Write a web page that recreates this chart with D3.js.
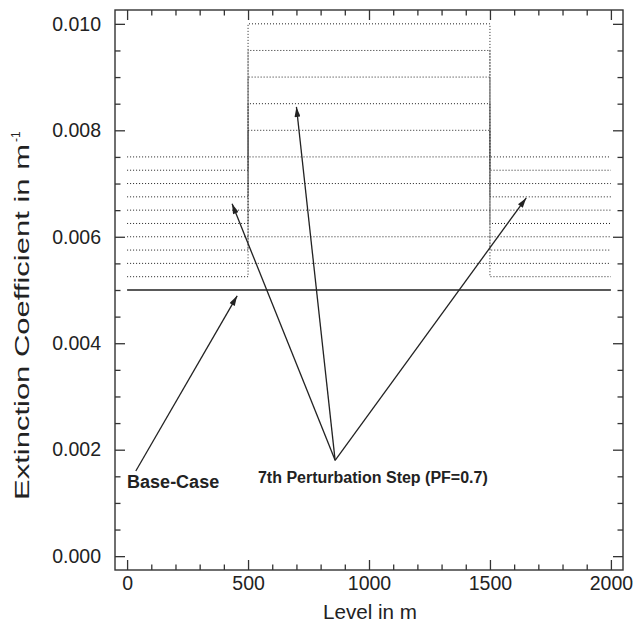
<!DOCTYPE html>
<html>
<head>
<meta charset="utf-8">
<script src="https://cdn.jsdelivr.net/npm/d3@7"></script>
<style>
  body { margin: 0; background: #fff; }
  text { font-family: "Liberation Sans", Arial, Helvetica, sans-serif; fill: #222; }
</style>
</head>
<body>
<div id="chart"></div>
<script>
// Step boundaries (m) and levels of the extinction coefficient
const levelEdges = [0, 500, 1500, 2000];
const baseCase = 0.005;
// one entry per perturbation step: outer layers and middle layer
const sideValues = [0.00525, 0.0055, 0.00575, 0.006, 0.00625, 0.0065, 0.00675, 0.007, 0.00725, 0.0075];
const middleValues = [0.0055, 0.006, 0.0065, 0.007, 0.0075, 0.008, 0.0085, 0.009, 0.0095, 0.010];

const xMajor = [0, 500, 1000, 1500, 2000];
const xMinor = d3.range(0, 2001, 100);
const yMajor = [0, 0.002, 0.004, 0.006, 0.008, 0.010];
const yMinor = d3.range(0, 0.01001, 0.0005);

// annotation arrows (data space): from -> to
const arrowFrom = [[36, 0.0016], [860, 0.0018], [860, 0.0018], [860, 0.0018]];
const arrowTo = [[455, 0.00489], [434, 0.00662], [700, 0.00844], [1650, 0.00673]];

const width = 635, height = 629;
const svg = d3.select('#chart').append('svg')
  .attr('width', width)
  .attr('height', height);

const x = d3.scaleLinear().domain([-50, 2050]).range([115, 623]);
const y = d3.scaleLinear().domain([-0.00026, 0.01026]).range([570, 10]);

const ink = '#222';

// arrow head
svg.append('defs').append('marker')
  .attr('id', 'head')
  .attr('viewBox', '0 0 10 6')
  .attr('refX', 10).attr('refY', 3)
  .attr('markerWidth', 11).attr('markerHeight', 6)
  .attr('markerUnits', 'userSpaceOnUse')
  .attr('orient', 'auto')
  .append('path')
  .attr('d', 'M0,0L10,3L0,6Z')
  .attr('fill', ink);

// perturbation steps, dotted
const line = d3.line().x(d => x(d[0])).y(d => y(d[1]));
sideValues.forEach((s, i) => {
  const m = middleValues[i];
  const pts = [[levelEdges[0], s], [levelEdges[1], s], [levelEdges[1], m],
               [levelEdges[2], m], [levelEdges[2], s], [levelEdges[3], s]];
  svg.append('path')
    .attr('d', line(pts))
    .attr('fill', 'none')
    .attr('stroke', ink)
    .attr('stroke-width', 1)
    .attr('stroke-dasharray', '1,2');
});

// base case, solid
svg.append('path')
  .attr('d', line([[levelEdges[0], baseCase], [levelEdges[3], baseCase]]))
  .attr('fill', 'none')
  .attr('stroke', ink)
  .attr('stroke-width', 1.3);

// frame
svg.append('rect')
  .attr('x', x.range()[0]).attr('y', y.range()[1])
  .attr('width', x.range()[1] - x.range()[0])
  .attr('height', y.range()[0] - y.range()[1])
  .attr('fill', 'none')
  .attr('stroke', '#333')
  .attr('stroke-width', 1.4);

// axes with inward ticks on all four sides
const addAxis = (axis, tx, ty) => {
  const g = svg.append('g').attr('transform', `translate(${tx},${ty})`).call(axis);
  g.select('.domain').remove();
  g.selectAll('.tick line').attr('stroke', '#333').attr('stroke-width', 1.3);
  return g;
};

const xb = addAxis(d3.axisBottom(x).tickValues(xMajor).tickSize(-10).tickPadding(6).tickFormat(d3.format('d')), 0, 570);
xb.selectAll('text').attr('font-size', 19.5).style('font-family', null);
addAxis(d3.axisBottom(x).tickValues(xMinor.filter(v => v % 500)).tickSize(-5.5).tickFormat(''), 0, 570);
addAxis(d3.axisTop(x).tickValues(xMajor).tickSize(-10).tickFormat(''), 0, 10);
addAxis(d3.axisTop(x).tickValues(xMinor.filter(v => v % 500)).tickSize(-5.5).tickFormat(''), 0, 10);

const yl = addAxis(d3.axisLeft(y).tickValues(yMajor).tickSize(-10).tickPadding(14).tickFormat(d3.format('.3f')), 115, 0);
yl.selectAll('text').attr('font-size', 19.5).style('font-family', null);
const yMinorOnly = yMinor.filter(v => Math.abs(v / 0.002 - Math.round(v / 0.002)) > 1e-6);
addAxis(d3.axisLeft(y).tickValues(yMinorOnly).tickSize(-5.5).tickFormat(''), 115, 0);
addAxis(d3.axisRight(y).tickValues(yMajor).tickSize(-10).tickFormat(''), 623, 0);
addAxis(d3.axisRight(y).tickValues(yMinorOnly).tickSize(-5.5).tickFormat(''), 623, 0);
svg.selectAll('.tick text').attr('fill', ink);

// axis titles
svg.append('text')
  .attr('x', 370).attr('y', 619)
  .attr('text-anchor', 'middle')
  .attr('font-size', 19.5)
  .attr('textLength', 94)
  .attr('lengthAdjust', 'spacingAndGlyphs')
  .text('Level in m');

const yTitle = svg.append('g').attr('transform', 'translate(29,500) rotate(-90)');
yTitle.append('text')
  .attr('x', 0).attr('y', 0)
  .attr('font-size', 20)
  .attr('textLength', 356)
  .attr('lengthAdjust', 'spacingAndGlyphs')
  .text('Extinction Coefficient in m');
yTitle.append('text')
  .attr('x', 358).attr('y', -9)
  .attr('font-size', 12)
  .text('-1');

// arrows
arrowFrom.forEach((f, i) => {
  const t = arrowTo[i];
  svg.append('line')
    .attr('x1', x(f[0])).attr('y1', y(f[1]))
    .attr('x2', x(t[0])).attr('y2', y(t[1]))
    .attr('stroke', ink)
    .attr('stroke-width', 1.3)
    .attr('marker-end', 'url(#head)');
});

// labels
svg.append('text')
  .attr('x', x(0)).attr('y', y(0.00128))
  .attr('font-size', 18).attr('font-weight', 'bold')
  .text('Base-Case');
svg.append('text')
  .attr('x', x(541)).attr('y', y(0.00138))
  .attr('font-size', 16).attr('font-weight', 'bold')
  .text('7th Perturbation Step (PF=0.7)');
</script>
</body>
</html>
